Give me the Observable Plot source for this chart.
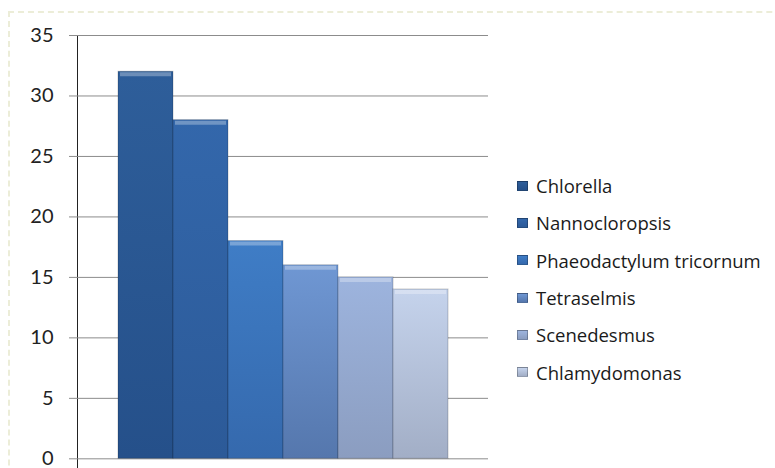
<!DOCTYPE html>
<html><head><meta charset="utf-8">
<script src="https://cdn.jsdelivr.net/npm/d3@7"></script>
<script src="https://cdn.jsdelivr.net/npm/@observablehq/plot@0.6"></script>
<style>
body{margin:0;background:#fff;font-family:Lato,sans-serif}
#wrap{position:relative;width:775px;height:468px;overflow:hidden}
#border{position:absolute;left:8px;top:11px;width:900px;height:600px;border:2px dashed #ecedd8}
#chart{position:absolute;left:0;top:0}
#legend{position:absolute;left:517px;top:167px}
.row{display:flex;align-items:center;height:37.3px;font-family:"Open Sans",sans-serif;font-size:18.5px;color:#1a1a1a;white-space:nowrap}
.sw{width:11px;height:10px;margin-right:8px;box-sizing:border-box;border:1px solid rgba(0,0,0,0.25)}
</style></head><body>
<div id="wrap"><div id="border"></div><div id="chart"></div><div id="legend"></div></div>
<script>
const species = ["Chlorella","Nannocloropsis","Phaeodactylum tricornum","Tetraselmis","Scenedesmus","Chlamydomonas"];
const values = [32, 28, 18, 16, 15, 14];
const topColors = ["#2e5e9a","#3367ab","#3f7dc6","#6f97d3","#9db4de","#c5d3ec"];
const bottomColors = ["#25508a","#2c5a98","#3569ad","#5577ad","#8b9dc0","#a2aec6"];
const yTicks = [0, 5, 10, 15, 20, 25, 30, 35];

const data = species.map((s, i) => ({species: s, value: values[i]}));

const chart = Plot.plot({
  width: 775, height: 468,
  marginLeft: 77, marginRight: 287, marginTop: 35, marginBottom: 0,
  style: {fontFamily: "Lato, sans-serif", fontSize: "20px", color: "#222", background: "transparent"},
  x: {domain: species, paddingInner: 0, paddingOuter: 0.736, axis: null},
  y: {domain: [-0.8, 35], ticks: yTicks, tickSize: 8, tickPadding: 16, line: true, label: null},
  color: {domain: species, range: species.map((s, i) => `url(#grad${i})`)},
  marks: [
    Plot.ruleY(yTicks, {stroke: "#8c8c8c"}),
    Plot.barY(data, {x: "species", y: "value", fill: "species", stroke: "rgba(0,0,0,0.2)", strokeWidth: 1}),
    Plot.tickY(data, {x: "species", y: "value", stroke: "rgba(255,255,255,0.3)", strokeWidth: 4, dy: 2.5, inset: 2})
  ]
});

const svg = d3.select(chart);
const defs = svg.insert("defs", ":first-child");
species.forEach((s, i) => {
  const g = defs.append("linearGradient").attr("id", `grad${i}`)
    .attr("x1", 0).attr("y1", 0).attr("x2", 0).attr("y2", 1);
  g.append("stop").attr("offset", "0%").attr("stop-color", topColors[i]);
  g.append("stop").attr("offset", "100%").attr("stop-color", bottomColors[i]);
});
svg.selectAll('[aria-label="y-axis"] path, [aria-label="y-axis tick"] path, [aria-label="y-axis"] line').attr("stroke", "#8c8c8c");
svg.selectAll('[aria-label="y-axis tick"]').attr("stroke", "#8c8c8c");
document.getElementById("chart").appendChild(chart);

const legend = d3.select("#legend");
species.forEach((s, i) => {
  const row = legend.append("div").attr("class", "row");
  row.append("div").attr("class", "sw")
    .style("background", `linear-gradient(${topColors[i]}, ${bottomColors[i]})`);
  row.append("span").text(s);
});
</script>
</body></html>
